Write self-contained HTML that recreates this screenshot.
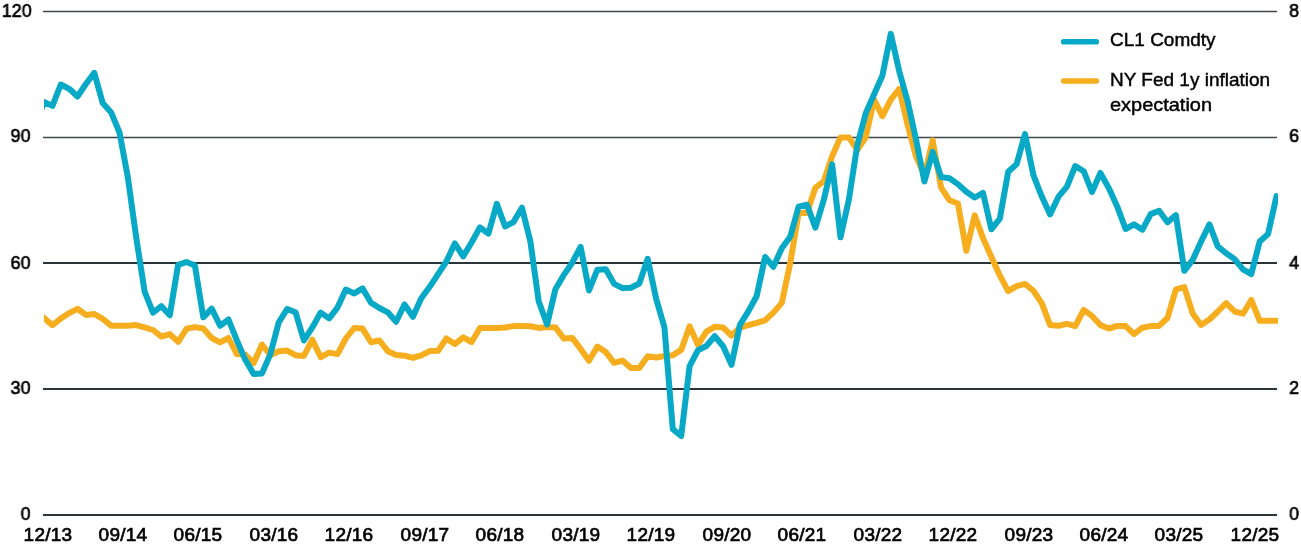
<!DOCTYPE html>
<html><head><meta charset="utf-8"><title>chart</title>
<style>
html,body{margin:0;padding:0;background:#fff;}
body{width:1301px;height:546px;overflow:hidden;position:relative;font-family:"Liberation Sans",sans-serif;color:#000;}
svg{position:absolute;left:0;top:0;}
.yl,.yr,.xl,.lg{position:absolute;font-size:19px;line-height:20px;white-space:nowrap;-webkit-text-stroke:0.7px #000;will-change:transform;}
.yl{left:0;width:30.5px;text-align:right;transform:scaleX(0.94);transform-origin:100% 50%;}
.yr{left:1283.4px;width:16px;text-align:right;transform:scaleX(0.94);transform-origin:100% 50%;}
.xl{width:80px;text-align:center;top:525px;letter-spacing:0.25px;}
.lg{-webkit-text-stroke:0.45px #000;left:1109.5px;transform-origin:0 50%;}
</style></head><body>
<svg width="1301" height="546" viewBox="0 0 1301 546">
<line x1="43" x2="1277" y1="11.5" y2="11.5" stroke="#3d474b" stroke-width="1.3"/>
<line x1="43" x2="1277" y1="137.5" y2="137.5" stroke="#3d474b" stroke-width="1.3"/>
<line x1="43" x2="1277" y1="263" y2="263" stroke="#2a353a" stroke-width="1.9"/>
<line x1="43" x2="1277" y1="389" y2="389" stroke="#2a353a" stroke-width="1.9"/>
<line x1="43" x2="1277" y1="515" y2="515" stroke="#2a353a" stroke-width="1.9"/>
<defs><clipPath id="cp"><rect x="44" y="0" width="1234" height="546"/></clipPath></defs><g clip-path="url(#cp)">
<polyline fill="none" stroke="#f6ae1e" stroke-width="6" stroke-linejoin="round" stroke-linecap="round" points="35.6,310.9 44.0,318.0 52.4,325.1 60.8,318.6 69.2,313.1 77.5,308.8 85.9,314.9 94.3,314.0 102.7,318.9 111.1,325.7 119.5,325.7 127.8,325.7 136.2,325.1 144.6,327.4 153.0,330.0 161.4,336.6 169.8,334.1 178.1,341.9 186.5,328.8 194.9,327.1 203.3,328.5 211.7,338.0 220.1,342.3 228.5,338.0 236.8,354.1 245.2,354.6 253.6,363.1 262.0,344.6 270.4,355.1 278.8,351.2 287.1,350.6 295.5,355.2 303.9,355.9 312.3,339.7 320.7,357.2 329.1,352.6 337.5,354.1 345.8,338.5 354.2,328.0 362.6,328.6 371.0,342.3 379.4,340.5 387.8,351.2 396.1,354.9 404.5,355.7 412.9,357.9 421.3,355.4 429.7,351.1 438.1,350.8 446.4,338.5 454.8,344.1 463.2,337.4 471.6,342.0 480.0,328.0 488.4,328.0 496.8,328.0 505.1,327.5 513.5,326.1 521.9,326.0 530.3,326.3 538.7,327.9 547.1,326.9 555.4,327.4 563.8,338.5 572.2,337.9 580.6,348.9 589.0,360.8 597.4,346.6 605.8,352.1 614.1,362.8 622.5,360.6 630.9,368.1 639.3,368.1 647.7,356.3 656.1,357.5 664.4,356.0 672.8,355.2 681.2,349.9 689.6,326.3 698.0,344.9 706.4,331.7 714.7,326.8 723.1,327.5 731.5,335.7 739.9,327.5 748.3,325.2 756.7,322.9 765.1,320.3 773.4,312.6 781.8,302.9 790.2,263.2 798.6,212.9 807.0,212.9 815.4,187.7 823.7,181.4 832.1,156.3 840.5,137.4 848.9,137.4 857.3,150.0 865.7,137.4 874.1,99.6 882.4,116.2 890.8,99.6 899.2,88.9 907.6,124.8 916.0,156.3 924.4,175.1 932.7,140.3 941.1,187.7 949.5,200.3 957.9,203.5 966.3,250.7 974.7,215.4 983.0,238.1 991.4,257.0 999.8,275.4 1008.2,291.1 1016.6,286.1 1025.0,283.9 1033.4,290.8 1041.7,303.1 1050.1,325.1 1058.5,325.7 1066.9,323.9 1075.3,326.0 1083.7,310.0 1092.0,315.9 1100.4,325.1 1108.8,328.5 1117.2,326.0 1125.6,326.1 1134.0,334.1 1142.4,327.7 1150.7,326.1 1159.1,325.9 1167.5,318.0 1175.9,289.4 1184.3,287.1 1192.7,313.4 1201.0,324.9 1209.4,319.5 1217.8,311.5 1226.2,303.1 1234.6,311.5 1243.0,313.7 1251.3,300.0 1259.7,320.8 1268.1,320.8 1276.5,320.8"/>
<polyline fill="none" stroke="#07a9c6" stroke-width="6" stroke-linejoin="round" stroke-linecap="round" points="35.6,126.0 44.0,102.0 52.4,105.9 60.8,84.5 69.2,88.8 77.5,96.5 85.9,84.0 94.3,72.9 102.7,103.1 111.1,112.4 119.5,132.5 127.8,177.1 136.2,237.4 144.6,291.5 153.0,312.6 161.4,306.2 169.8,315.3 178.1,264.8 186.5,262.0 194.9,265.5 203.3,317.3 211.7,308.6 220.1,325.8 228.5,319.5 236.8,340.2 245.2,359.6 253.6,373.9 262.0,373.4 270.4,354.1 278.8,322.3 287.1,309.0 295.5,312.2 303.9,340.5 312.3,327.4 320.7,312.6 329.1,318.4 337.5,307.6 345.8,289.6 354.2,293.4 362.6,288.4 371.0,302.7 379.4,308.0 387.8,312.3 396.1,321.8 404.5,304.5 412.9,316.8 421.3,298.2 429.7,286.8 438.1,274.2 446.4,261.5 454.8,243.4 463.2,256.4 471.6,242.5 480.0,227.3 488.4,233.7 496.8,203.9 505.1,226.5 513.5,222.1 521.9,207.7 530.3,241.0 538.7,301.3 547.1,324.5 555.4,289.3 563.8,274.9 572.2,262.7 580.6,246.8 589.0,290.5 597.4,269.7 605.8,269.2 614.1,283.8 622.5,288.1 630.9,287.7 639.3,283.5 647.7,258.8 656.1,298.7 664.4,327.2 672.8,429.1 681.2,436.0 689.6,366.1 698.0,350.2 706.4,346.0 714.7,336.2 723.1,346.2 731.5,364.8 739.9,324.8 748.3,311.4 756.7,296.0 765.1,257.0 773.4,266.8 781.8,248.2 790.2,236.7 798.6,206.7 807.0,204.7 815.4,227.6 823.7,200.2 832.1,164.4 840.5,237.3 848.9,199.4 857.3,145.1 865.7,113.4 874.1,94.2 882.4,75.7 890.8,33.9 899.2,71.2 907.6,101.2 916.0,139.3 924.4,181.5 932.7,151.9 941.1,177.0 949.5,178.2 957.9,184.1 966.3,191.7 974.7,197.5 983.0,192.8 991.4,229.3 999.8,218.6 1008.2,171.8 1016.6,164.1 1025.0,134.1 1033.4,175.1 1041.7,196.3 1050.1,214.4 1058.5,196.7 1066.9,186.6 1075.3,166.0 1083.7,171.2 1092.0,192.0 1100.4,172.9 1108.8,188.1 1117.2,206.4 1125.6,229.0 1134.0,224.4 1142.4,229.7 1150.7,214.1 1159.1,210.7 1167.5,222.3 1175.9,215.1 1184.3,270.8 1192.7,259.9 1201.0,241.8 1209.4,224.4 1217.8,246.4 1226.2,253.3 1234.6,259.1 1243.0,269.3 1251.3,274.1 1259.7,241.4 1268.1,233.9 1276.5,196.1"/>
</g>
<line x1="1063.7" x2="1096.3" y1="41.7" y2="41.7" stroke="#07a9c6" stroke-width="5.6" stroke-linecap="round"/>
<line x1="1063.7" x2="1096.3" y1="81" y2="81" stroke="#f6ae1e" stroke-width="5.6" stroke-linecap="round"/>
</svg>
<div class="yl" style="top:1.3px">120</div>
<div class="yl" style="top:126.3px">90</div>
<div class="yl" style="top:252.8px">60</div>
<div class="yl" style="top:378.4px">30</div>
<div class="yl" style="top:504.2px">0</div>
<div class="yr" style="top:1.3px">8</div>
<div class="yr" style="top:126.3px">6</div>
<div class="yr" style="top:252.8px">4</div>
<div class="yr" style="top:378.4px">2</div>
<div class="yr" style="top:504.2px">0</div>
<div class="xl" style="left:7.5px">12/13</div>
<div class="xl" style="left:83.0px">09/14</div>
<div class="xl" style="left:158.4px">06/15</div>
<div class="xl" style="left:233.9px">03/16</div>
<div class="xl" style="left:309.3px">12/16</div>
<div class="xl" style="left:384.8px">09/17</div>
<div class="xl" style="left:460.3px">06/18</div>
<div class="xl" style="left:535.7px">03/19</div>
<div class="xl" style="left:611.2px">12/19</div>
<div class="xl" style="left:686.6px">09/20</div>
<div class="xl" style="left:762.1px">06/21</div>
<div class="xl" style="left:837.6px">03/22</div>
<div class="xl" style="left:913.0px">12/22</div>
<div class="xl" style="left:988.5px">09/23</div>
<div class="xl" style="left:1063.9px">06/24</div>
<div class="xl" style="left:1139.4px">03/25</div>
<div class="xl" style="left:1214.8px">12/25</div>
<div class="lg" style="top:30.3px;font-size:19px;">CL1 Comdty</div>
<div class="lg" style="top:70.3px;font-size:19px;">NY Fed 1y inflation</div>
<div class="lg" style="top:95.3px;font-size:19px;transform:scaleX(1.05)">expectation</div>
</body></html>
